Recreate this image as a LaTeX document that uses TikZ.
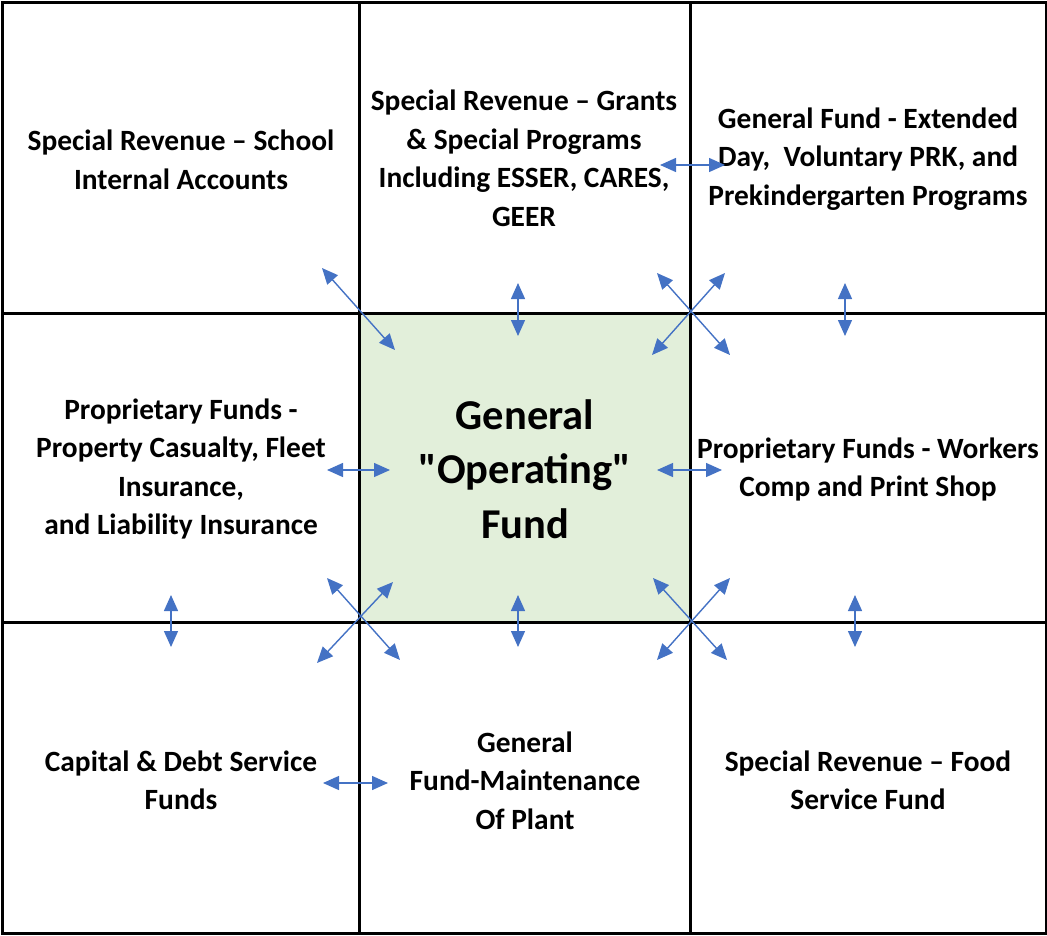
\documentclass[tikz,border=0pt]{standalone}
\usepackage{fontspec}
\setmainfont{Carlito}[Ligatures=TeXOff]
\usetikzlibrary{arrows.meta}
\definecolor{arrowblue}{HTML}{4472C4}
\definecolor{cellgreen}{HTML}{E2EFDA}
\tikzset{
  grid/.style={line width=3pt, black},
  cell/.style={align=center, font=\bfseries\fontsize{29.4}{38.5}\selectfont, inner sep=0pt},
  big/.style={align=center, font=\bfseries\fontsize{42.5}{54.5}\selectfont, inner sep=0pt},
  link/.style={arrowblue, line width=1.4pt, {Triangle[length=16pt,width=14pt]}-{Triangle[length=16pt,width=14pt]}},
}
\begin{document}
\begin{tikzpicture}[x=1pt,y=-1pt]
\useasboundingbox (0,0) rectangle (1047,935);
\fill[cellgreen] (359.5,313) rectangle (690,622);
\draw[grid] (2.5,2.5) rectangle (1046,933);
\draw[grid] (359.5,2.5) -- (359.5,933);
\draw[grid] (690,2.5) -- (690,933);
\draw[grid] (2.5,313) -- (1046,313);
\draw[grid] (2.5,622) -- (1046,622);

\node[cell] (tl) at (181,160) {Special Revenue – School\\Internal Accounts};
\node[cell] (tc) at (524,158.5) {Special Revenue – Grants\\\& Special Programs\\Including ESSER, CARES,\\GEER};
\node[cell] (tr) at (868,159) {General Fund - Extended\\Day,~ Voluntary PRK, and\\Prekindergarten Programs};
\node[cell] (ml) at (181,469) {Proprietary Funds -\\Property Casualty, Fleet\\Insurance,\\and Liability Insurance};
\node[big] (cc) at (525,469) {General\\"Operating"\\Fund};
\node[cell] (mr) at (868,469.5) {Proprietary Funds - Workers\\Comp and Print Shop};
\node[cell] (bl) at (181,780.5) {Capital \& Debt Service\\Funds};
\node[cell] (bc) at (525,780.5) {General\\Fund-Maintenance\\Of Plant};
\node[cell] (br) at (868,780.5) {Special Revenue – Food\\Service Fund};

\coordinate (a1s) at (322,268); \coordinate (a1e) at (395,350);
\coordinate (a2s) at (518,283); \coordinate (a2e) at (518,336);
\coordinate (a3s) at (657,273); \coordinate (a3e) at (730,355);
\coordinate (a4s) at (725,273); \coordinate (a4e) at (652,355);
\coordinate (a5s) at (845,283); \coordinate (a5e) at (845,336);
\coordinate (a6s) at (327,470); \coordinate (a6e) at (390,470);
\coordinate (a7s) at (657,470); \coordinate (a7e) at (722,470);
\coordinate (a8s) at (660,165); \coordinate (a8e) at (725,165);
\coordinate (a9s) at (327,578); \coordinate (a9e) at (400,660);
\coordinate (a10s) at (393,582); \coordinate (a10e) at (317,663);
\coordinate (a11s) at (518,595); \coordinate (a11e) at (518,647);
\coordinate (a12s) at (653,578); \coordinate (a12e) at (727,660);
\coordinate (a13s) at (730,578); \coordinate (a13e) at (657,660);
\coordinate (a14s) at (171,595); \coordinate (a14e) at (171,647);
\coordinate (a15s) at (855,595); \coordinate (a15e) at (855,647);
\coordinate (a16s) at (323,783); \coordinate (a16e) at (388,783);

\foreach \i in {1,...,16} { \draw[link] (a\i s) -- (a\i e); }
\end{tikzpicture}
\end{document}
